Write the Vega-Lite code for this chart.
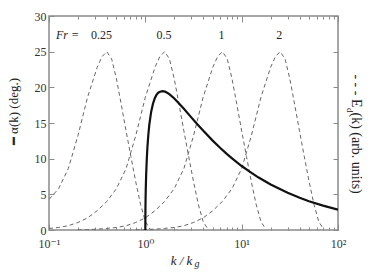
{
  "$schema": "https://vega.github.io/schema/vega-lite/v6.json",
  "width": 289,
  "height": 214,
  "autosize": "none",
  "padding": {"left": 49, "top": 16, "right": 33, "bottom": 42},
  "background": "white",
  "config": {
    "view": {"stroke": "#8a8a8a", "strokeWidth": 1.5},
    "axis": {
      "domain": false, "grid": false, "tickColor": "#8a8a8a", "tickWidth": 1,
      "labelFont": "'Liberation Serif', 'DejaVu Serif', serif", "labelFontSize": 12, "labelColor": "#333",
      "titleFont": "'Liberation Serif', 'DejaVu Serif', serif", "titleFontSize": 13, "titleColor": "#222", "titleFontWeight": "normal"
    }
  },
  "datasets": {
    "spectra": [
      {"Fr": "0.25", "k": 0.1, "E": 4.3},
      {"Fr": "0.25", "k": 0.1259, "E": 5.8},
      {"Fr": "0.25", "k": 0.1585, "E": 8.6},
      {"Fr": "0.25", "k": 0.1995, "E": 13.2},
      {"Fr": "0.25", "k": 0.2512, "E": 18.6},
      {"Fr": "0.25", "k": 0.3162, "E": 22.8},
      {"Fr": "0.25", "k": 0.3548, "E": 24.3},
      {"Fr": "0.25", "k": 0.3981, "E": 25.0},
      {"Fr": "0.25", "k": 0.4467, "E": 24.0},
      {"Fr": "0.25", "k": 0.5012, "E": 21.2},
      {"Fr": "0.25", "k": 0.5623, "E": 17.6},
      {"Fr": "0.25", "k": 0.631, "E": 13.9},
      {"Fr": "0.25", "k": 0.7079, "E": 10.3},
      {"Fr": "0.25", "k": 0.7943, "E": 6.8},
      {"Fr": "0.25", "k": 0.8913, "E": 3.6},
      {"Fr": "0.25", "k": 1.0, "E": 1.2},
      {"Fr": "0.25", "k": 1.122, "E": 0.1},
      {"Fr": "0.5", "k": 0.1, "E": 0.22},
      {"Fr": "0.5", "k": 0.1259, "E": 0.35},
      {"Fr": "0.5", "k": 0.1585, "E": 0.6},
      {"Fr": "0.5", "k": 0.1995, "E": 1.05},
      {"Fr": "0.5", "k": 0.2512, "E": 1.7},
      {"Fr": "0.5", "k": 0.3162, "E": 2.7},
      {"Fr": "0.5", "k": 0.3981, "E": 4.0},
      {"Fr": "0.5", "k": 0.5012, "E": 5.8},
      {"Fr": "0.5", "k": 0.631, "E": 8.6},
      {"Fr": "0.5", "k": 0.7943, "E": 13.2},
      {"Fr": "0.5", "k": 1.0, "E": 18.6},
      {"Fr": "0.5", "k": 1.2589, "E": 22.8},
      {"Fr": "0.5", "k": 1.4125, "E": 24.3},
      {"Fr": "0.5", "k": 1.5849, "E": 25.0},
      {"Fr": "0.5", "k": 1.7783, "E": 24.0},
      {"Fr": "0.5", "k": 1.9953, "E": 21.2},
      {"Fr": "0.5", "k": 2.2387, "E": 17.6},
      {"Fr": "0.5", "k": 2.5119, "E": 13.9},
      {"Fr": "0.5", "k": 2.8184, "E": 10.3},
      {"Fr": "0.5", "k": 3.1623, "E": 6.8},
      {"Fr": "0.5", "k": 3.5481, "E": 3.6},
      {"Fr": "0.5", "k": 3.9811, "E": 1.2},
      {"Fr": "0.5", "k": 4.4668, "E": 0.1},
      {"Fr": "1", "k": 0.1995, "E": 0.0},
      {"Fr": "1", "k": 0.2512, "E": 0.05},
      {"Fr": "1", "k": 0.3162, "E": 0.12},
      {"Fr": "1", "k": 0.3981, "E": 0.22},
      {"Fr": "1", "k": 0.5012, "E": 0.35},
      {"Fr": "1", "k": 0.631, "E": 0.6},
      {"Fr": "1", "k": 0.7943, "E": 1.05},
      {"Fr": "1", "k": 1.0, "E": 1.7},
      {"Fr": "1", "k": 1.2589, "E": 2.7},
      {"Fr": "1", "k": 1.5849, "E": 4.0},
      {"Fr": "1", "k": 1.9953, "E": 5.8},
      {"Fr": "1", "k": 2.5119, "E": 8.6},
      {"Fr": "1", "k": 3.1623, "E": 13.2},
      {"Fr": "1", "k": 3.9811, "E": 18.6},
      {"Fr": "1", "k": 5.0119, "E": 22.8},
      {"Fr": "1", "k": 5.6234, "E": 24.3},
      {"Fr": "1", "k": 6.3096, "E": 25.0},
      {"Fr": "1", "k": 7.0795, "E": 24.0},
      {"Fr": "1", "k": 7.9433, "E": 21.2},
      {"Fr": "1", "k": 8.9125, "E": 17.6},
      {"Fr": "1", "k": 10.0, "E": 13.9},
      {"Fr": "1", "k": 11.22, "E": 10.3},
      {"Fr": "1", "k": 12.589, "E": 6.8},
      {"Fr": "1", "k": 14.125, "E": 3.6},
      {"Fr": "1", "k": 15.849, "E": 1.2},
      {"Fr": "1", "k": 17.783, "E": 0.1},
      {"Fr": "2", "k": 0.7943, "E": 0.0},
      {"Fr": "2", "k": 1.0, "E": 0.05},
      {"Fr": "2", "k": 1.2589, "E": 0.12},
      {"Fr": "2", "k": 1.5849, "E": 0.22},
      {"Fr": "2", "k": 1.9953, "E": 0.35},
      {"Fr": "2", "k": 2.5119, "E": 0.6},
      {"Fr": "2", "k": 3.1623, "E": 1.05},
      {"Fr": "2", "k": 3.9811, "E": 1.7},
      {"Fr": "2", "k": 5.0119, "E": 2.7},
      {"Fr": "2", "k": 6.3096, "E": 4.0},
      {"Fr": "2", "k": 7.9433, "E": 5.8},
      {"Fr": "2", "k": 10.0, "E": 8.6},
      {"Fr": "2", "k": 12.589, "E": 13.2},
      {"Fr": "2", "k": 15.849, "E": 18.6},
      {"Fr": "2", "k": 19.953, "E": 22.8},
      {"Fr": "2", "k": 22.387, "E": 24.3},
      {"Fr": "2", "k": 25.119, "E": 25.0},
      {"Fr": "2", "k": 28.184, "E": 24.0},
      {"Fr": "2", "k": 31.623, "E": 21.2},
      {"Fr": "2", "k": 35.481, "E": 17.6},
      {"Fr": "2", "k": 39.811, "E": 13.9},
      {"Fr": "2", "k": 44.668, "E": 10.3},
      {"Fr": "2", "k": 50.119, "E": 6.8},
      {"Fr": "2", "k": 56.234, "E": 3.6},
      {"Fr": "2", "k": 63.096, "E": 1.2},
      {"Fr": "2", "k": 70.795, "E": 0.1}
    ],
    "alpha": [
      {"k": 1.0, "alpha": 0.0},
      {"k": 1.001, "alpha": 1.81},
      {"k": 1.002, "alpha": 2.55},
      {"k": 1.003, "alpha": 3.12},
      {"k": 1.005, "alpha": 4.0},
      {"k": 1.01, "alpha": 5.66},
      {"k": 1.02, "alpha": 7.74},
      {"k": 1.035, "alpha": 9.92},
      {"k": 1.05, "alpha": 11.49},
      {"k": 1.075, "alpha": 13.39},
      {"k": 1.1, "alpha": 14.76},
      {"k": 1.15, "alpha": 16.59},
      {"k": 1.2, "alpha": 17.71},
      {"k": 1.25, "alpha": 18.43},
      {"k": 1.3, "alpha": 18.9},
      {"k": 1.35, "alpha": 19.19},
      {"k": 1.4, "alpha": 19.36},
      {"k": 1.5, "alpha": 19.47},
      {"k": 1.6, "alpha": 19.4},
      {"k": 1.7, "alpha": 19.22},
      {"k": 1.8, "alpha": 18.98},
      {"k": 2.0, "alpha": 18.43},
      {"k": 2.2, "alpha": 17.85},
      {"k": 2.5, "alpha": 17.02},
      {"k": 3.0, "alpha": 15.79},
      {"k": 3.5, "alpha": 14.76},
      {"k": 4.0, "alpha": 13.9},
      {"k": 5.0, "alpha": 12.53},
      {"k": 6.0, "alpha": 11.49},
      {"k": 7.0, "alpha": 10.67},
      {"k": 8.0, "alpha": 10.0},
      {"k": 10.0, "alpha": 8.97},
      {"k": 12.0, "alpha": 8.21},
      {"k": 15.0, "alpha": 7.35},
      {"k": 20.0, "alpha": 6.38},
      {"k": 30.0, "alpha": 5.21},
      {"k": 40.0, "alpha": 4.52},
      {"k": 50.0, "alpha": 4.04},
      {"k": 70.0, "alpha": 3.42},
      {"k": 100.0, "alpha": 2.86}
    ],
    "frnums": [
      {"label": "0.25", "k": 0.35, "y": 26.8},
      {"label": "0.5", "k": 1.567, "y": 26.8},
      {"label": "1", "k": 6.17, "y": 26.8},
      {"label": "2", "k": 24.5, "y": 26.8}
    ],
    "frname": [
      {"label": "Fr =", "k": 0.1556, "y": 26.8}
    ]
  },
  "resolve": {"axis": {"x": "independent", "y": "independent"}},
  "layer": [
    {
      "data": {"name": "spectra"},
      "mark": {"type": "line", "strokeDash": [4, 3], "strokeWidth": 1, "color": "#666", "clip": true},
      "encoding": {
        "x": {
          "field": "k", "type": "quantitative",
          "scale": {"type": "log", "domain": [0.1, 100], "nice": false},
          "axis": {
            "orient": "bottom", "values": [0.1, 1, 10, 100], "tickSize": -6, "labelPadding": 14,
            "labelFlush": false, "labelOverlap": false,
            "labelExpr": "datum.value < 0.5 ? '10⁻¹' : datum.value < 5 ? '10⁰' : datum.value < 50 ? '10¹' : '10²'",
            "title": "k / k", "titleFontStyle": "italic", "titleX": 132, "titleY": 34,
            "titleBaseline": "alphabetic", "titleAlign": "center"
          }
        },
        "y": {
          "field": "E", "type": "quantitative",
          "scale": {"domain": [0, 30], "nice": false},
          "axis": {
            "orient": "left", "values": [0, 5, 10, 15, 20, 25, 30], "tickSize": -5, "labelPadding": 8,
            "title": "━  α(k) (deg.)", "titleX": -36, "titleY": 95, "titleAngle": -90,
            "titleBaseline": "middle", "titleAlign": "center"
          }
        },
        "detail": {"field": "Fr"}
      }
    },
    {
      "data": {"name": "alpha"},
      "mark": {"type": "line", "color": "#111", "strokeWidth": 2.2, "clip": true},
      "encoding": {
        "x": {
          "field": "k", "type": "quantitative",
          "scale": {"type": "log", "domain": [0.1, 100], "nice": false},
          "axis": {
            "orient": "top", "values": [0.1, 1, 10, 100], "tickSize": -6, "labels": false,
            "title": "g", "titleFontStyle": "italic", "titleFontSize": 10, "titleX": 147.5, "titleY": 250,
            "titleBaseline": "alphabetic", "titleAlign": "center"
          }
        },
        "y": {
          "field": "alpha", "type": "quantitative",
          "scale": {"domain": [0, 30], "nice": false},
          "axis": {
            "orient": "right", "values": [0, 5, 10, 15, 20, 25, 30], "tickSize": -5, "labels": false,
            "title": "- - - E", "titleFontSize": 14, "titleAngle": 90, "titleX": 17, "titleY": 91,
            "titleBaseline": "middle", "titleAlign": "right"
          }
        }
      }
    },
    {
      "data": {"name": "frnums"},
      "mark": {"type": "text", "font": "'Liberation Serif', 'DejaVu Serif', serif", "fontSize": 12, "color": "#222", "align": "center", "baseline": "alphabetic"},
      "encoding": {
        "x": {
          "field": "k", "type": "quantitative",
          "scale": {"type": "log", "domain": [0.1, 100], "nice": false},
          "axis": {
            "orient": "bottom", "values": [0.2, 0.3, 0.4, 0.5, 0.6, 0.7, 0.8, 0.9, 2, 3, 4, 5, 6, 7, 8, 9, 20, 30, 40, 50, 60, 70, 80, 90],
            "tickSize": -3, "labels": false, "title": null
          }
        },
        "y": {
          "field": "y", "type": "quantitative",
          "scale": {"domain": [0, 30], "nice": false},
          "axis": {
            "orient": "right", "ticks": false, "labels": false,
            "title": "d", "titleFontSize": 9, "titleFontStyle": "normal", "titleAngle": 90, "titleX": 11.5, "titleY": 91.5,
            "titleBaseline": "middle", "titleAlign": "left"
          }
        },
        "text": {"field": "label"}
      }
    },
    {
      "data": {"name": "frname"},
      "mark": {"type": "text", "font": "'Liberation Serif', 'DejaVu Serif', serif", "fontSize": 12, "fontStyle": "italic", "color": "#222", "align": "center", "baseline": "alphabetic"},
      "encoding": {
        "x": {
          "field": "k", "type": "quantitative",
          "scale": {"type": "log", "domain": [0.1, 100], "nice": false},
          "axis": {
            "orient": "top", "values": [0.2, 0.3, 0.4, 0.5, 0.6, 0.7, 0.8, 0.9, 2, 3, 4, 5, 6, 7, 8, 9, 20, 30, 40, 50, 60, 70, 80, 90],
            "tickSize": -3, "labels": false, "title": null
          }
        },
        "y": {
          "field": "y", "type": "quantitative",
          "scale": {"domain": [0, 30], "nice": false},
          "axis": {
            "orient": "right", "ticks": false, "labels": false,
            "title": "(k)    (arb. units)", "titleFontSize": 14, "titleAngle": 90, "titleX": 17, "titleY": 96,
            "titleBaseline": "middle", "titleAlign": "left"
          }
        },
        "text": {"field": "label"}
      }
    }
  ]
}
